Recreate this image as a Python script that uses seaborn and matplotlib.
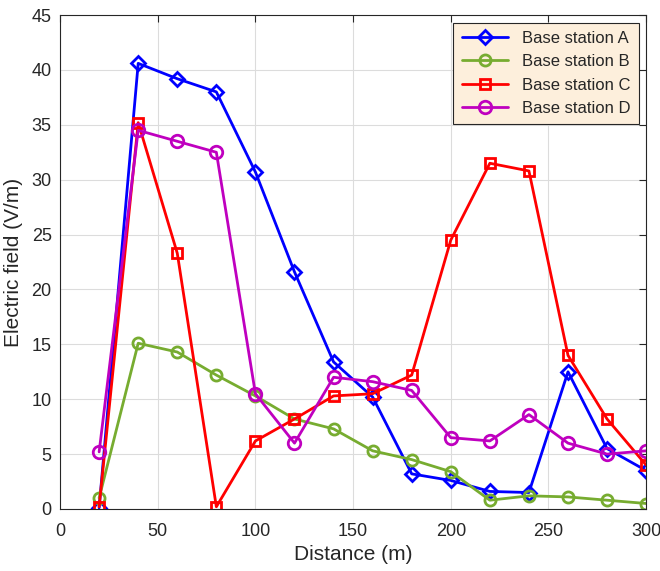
import numpy as np
import pandas as pd
import seaborn as sns
import matplotlib.pyplot as plt

# data
distance = [20, 40, 60, 80, 100, 120, 140, 160, 180, 200, 220, 240, 260, 280, 300]
station_a = [0.1, 40.6, 39.2, 38.0, 30.7, 21.6, 13.4, 10.2, 3.2, 2.6, 1.6, 1.5, 12.5, 5.5, 3.5]
station_b = [1.0, 15.1, 14.3, 12.2, 10.3, 8.2, 7.3, 5.3, 4.5, 3.4, 0.8, 1.2, 1.1, 0.8, 0.5]
station_c = [0.2, 35.2, 23.3, 0.2, 6.2, 8.2, 10.3, 10.5, 12.2, 24.5, 31.5, 30.8, 14.0, 8.2, 4.0]
station_d = [5.2, 34.5, 33.5, 32.5, 10.5, 6.0, 12.0, 11.6, 10.8, 6.5, 6.2, 8.6, 6.0, 5.0, 5.3]

names = ["Base station A", "Base station B", "Base station C", "Base station D"]
colors = ["#0000FF", "#77AC30", "#FF0000", "#BF00BF"]
markers = ["D", "o", "s", "o"]
sizes = [7, 8, 7, 9]

df = pd.concat([
    pd.DataFrame({"Distance": distance, "Field": vals, "Station": n})
    for n, vals in zip(names, [station_a, station_b, station_c, station_d])
])

sns.set_style("white")
plt.rcParams["font.family"] = ["Liberation Sans", "DejaVu Sans"]

fig = plt.figure(figsize=(6.6, 5.71), dpi=100)
ax = fig.add_axes([0.091, 0.1086, 0.888, 0.865])

for n, c, m, s in zip(names, colors, markers, sizes):
    sns.lineplot(data=df[df.Station == n], x="Distance", y="Field", ax=ax,
                 color=c, marker=m, markersize=s,
                 markerfacecolor="none", markeredgecolor=c, markeredgewidth=2,
                 linewidth=2, label=n)

ax.set_xlim(0, 300)
ax.set_ylim(0, 45)
ax.set_xticks(np.arange(0, 301, 50))
ax.set_yticks(np.arange(0, 46, 5))
ax.grid(True, color="#DCDCDC", linewidth=0.8)
ax.set_axisbelow(True)
for sp in ax.spines.values():
    sp.set_color("#262626")
    sp.set_linewidth(0.8)
ax.tick_params(direction="in", top=True, right=True, length=5, labelsize=13,
               colors="#262626", width=0.8)
ax.tick_params(axis="y", pad=6)
ax.tick_params(axis="x", pad=10)
ax.set_xlabel("Distance (m)", fontsize=15, color="#262626", labelpad=4)
ax.set_ylabel("Electric field (V/m)", fontsize=15, color="#262626", labelpad=6)

leg = ax.legend(loc="upper right", fontsize=12, fancybox=False, frameon=True,
                facecolor="#FDEFDC", edgecolor="#262626", framealpha=1,
                handlelength=2.8, borderaxespad=0.45, borderpad=0.5)
leg.get_frame().set_linewidth(0.8)

fig.savefig("out.png", dpi=100)
